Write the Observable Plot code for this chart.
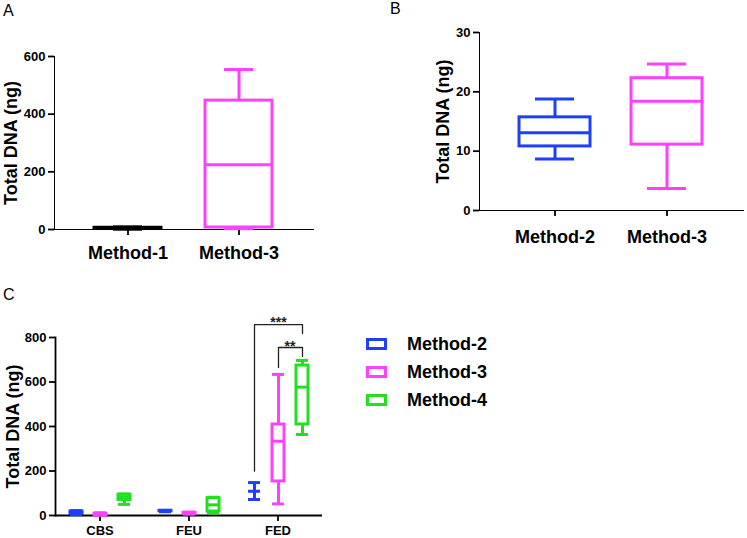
<!DOCTYPE html>
<html><head><meta charset="utf-8">
<script src="https://cdn.jsdelivr.net/npm/d3@7"></script>
<script src="https://cdn.jsdelivr.net/npm/@observablehq/plot@0.6"></script>
<style>
html,body{margin:0;padding:0;background:#fff;}
#root{position:relative;width:747px;height:538px;overflow:hidden;font-family:'Liberation Sans',Arial,sans-serif;color:#000;}
.panel{position:absolute;}
.letter{position:absolute;font-size:16px;line-height:16px;font-weight:normal;}
#legend{position:absolute;left:366px;top:330px;}
.row{display:flex;align-items:center;height:28px;}
.row span{font-size:18px;font-weight:bold;margin-left:19px;}
#root svg g[aria-label*="axis"] path,
#root svg g[aria-label*="axis"] line,
#root svg g[aria-label="frame"] line,
#root svg g[aria-label="frame"] rect,
#root svg g[aria-label="frame"] path {stroke-width:1.8px;}
</style></head><body><div id="root"></div>
<script>
// ---- Panel A ----
const methodsA = ["Method-1", "Method-3"];
const minA = [1, 3];
const q1A = [2, 7];
const medA = [4, 225];
const q3A = [6, 447];
const maxA = [9, 555];
const ticksA = [0, 200, 400, 600];

// ---- Panel B ----
const methodsB = ["Method-2", "Method-3"];
const minB = [8.7, 3.7];
const q1B = [10.8, 11.1];
const medB = [13.1, 18.4];
const q3B = [15.7, 22.3];
const maxB = [18.8, 24.7];
const ticksB = [0, 10, 20, 30];

// ---- Panel C ----
const groupsC = ["CBS", "FEU", "FED"];
const seriesC = ["Method-2", "Method-3", "Method-4"];
const minC = {"Method-2": [4, 17, 72], "Method-3": [1, 6, 52], "Method-4": [50, 12, 364]};
const q1C = {"Method-2": [7, 19, 109], "Method-3": [2, 8, 153], "Method-4": [70, 18, 409]};
const medC = {"Method-2": [12, 20, 109], "Method-3": [5, 10, 334], "Method-4": [82, 48, 577]};
const q3C = {"Method-2": [18, 21, 109], "Method-3": [8, 12, 409], "Method-4": [93, 78, 674]};
const maxC = {"Method-2": [22, 23, 148], "Method-3": [12, 15, 634], "Method-4": [97, 82, 697]};
const ticksC = [0, 200, 400, 600, 800];
// significance brackets (FED group)
const bracket1X = ["Method-2", "Method-2", "Method-4", "Method-4"];
const bracket1Y = [199, 858, 858, 818];
const bracket2X = ["Method-3", "Method-3", "Method-4", "Method-4"];
const bracket2Y = [665, 755, 755, 715];
const sigLabels = ["***", "**"];
const sigX = ["Method-3", "Method-4"];
const sigY = [866, 760];

const allMethods = ["Method-1", "Method-2", "Method-3", "Method-4"];
const colors = ["#000000", "#1f3fff", "#ff40ff", "#20e020"];
const yLabel = "Total DNA (ng)";

const font = "'Liberation Sans', Arial, sans-serif";
const style = {fontFamily: font, fontSize: "13px", fontWeight: "bold", color: "black", background: "white", overflow: "visible"};
const colorScale = {domain: allMethods, range: colors, legend: false};

function rowsOf(methods, mn, q1, md, q3, mx) {
  return methods.map((m, i) => ({method: m, min: mn[i], q1: q1[i], med: md[i], q3: q3[i], max: mx[i]}));
}

function boxMarks(rows, capInset, extra = {}) {
  const sw = 3;
  return [
    Plot.ruleX(rows, {x: "method", y1: "min", y2: "max", stroke: "method", strokeWidth: sw, ...extra}),
    Plot.barY(rows, {x: "method", y1: "q1", y2: "q3", fill: "white", stroke: "method", strokeWidth: sw, ...extra}),
    Plot.tickY(rows, {x: "method", y: "med", stroke: "method", strokeWidth: sw, ...extra}),
    Plot.tickY(rows, {x: "method", y: "min", stroke: "method", strokeWidth: sw, insetLeft: capInset, insetRight: capInset, ...extra}),
    Plot.tickY(rows, {x: "method", y: "max", stroke: "method", strokeWidth: sw, insetLeft: capInset, insetRight: capInset, ...extra})
  ];
}

const root = document.getElementById("root");
function place(node, left, top) {
  const d = document.createElement("div");
  d.className = "panel";
  d.style.left = left + "px";
  d.style.top = top + "px";
  d.appendChild(node);
  root.appendChild(d);
}
function letter(t, left, top) {
  const d = document.createElement("div");
  d.className = "letter";
  d.style.left = left + "px";
  d.style.top = top + "px";
  d.textContent = t;
  root.appendChild(d);
}

const yLabelOpts = {text: d => d, frameAnchor: "left", rotate: -90, fontSize: 18, fontWeight: "bold", textAnchor: "middle", lineAnchor: "middle"};

// Panel A
const rowsA = rowsOf(methodsA, minA, q1A, medA, q3A, maxA);
const plotA = Plot.plot({
  width: 380, height: 280,
  marginLeft: 54, marginRight: 67, marginTop: 56, marginBottom: 51,
  style,
  x: {domain: methodsA, paddingInner: 0.393, paddingOuter: 0.353, line: true, tickSize: 6, tickFormat: () => "", label: null},
  y: {domain: [0, 600], ticks: ticksA, line: true, tickSize: 6, tickPadding: 3, label: null},
  color: colorScale,
  marks: [
    ...boxMarks(rowsA, 19),
    Plot.text(methodsA, {x: d => d, text: d => d, frameAnchor: "bottom", dy: 24, fontSize: 18, fontWeight: "bold", lineAnchor: "middle"}),
    Plot.text([yLabel], {...yLabelOpts, dx: -43})
  ]
});
place(plotA, 0, 0);

// Panel B
const rowsB = rowsOf(methodsB, minB, q1B, medB, q3B, maxB);
const plotB = Plot.plot({
  width: 367, height: 280,
  marginLeft: 99, marginRight: 4, marginTop: 32, marginBottom: 70,
  style,
  x: {domain: methodsB, paddingInner: 0.363, paddingOuter: 0.35, line: true, tickSize: 6, tickFormat: () => "", label: null},
  y: {domain: [0, 30], ticks: ticksB, line: true, tickSize: 6, tickPadding: 3, label: null},
  color: colorScale,
  marks: [
    ...boxMarks(rowsB, 16),
    Plot.text(methodsB, {x: d => d, text: d => d, frameAnchor: "bottom", dy: 27, fontSize: 18, fontWeight: "bold", lineAnchor: "middle"}),
    Plot.text([yLabel], {...yLabelOpts, dx: -36})
  ]
});
place(plotB, 380, 0);

// Panel C
const rowsC = [];
seriesC.forEach(s => groupsC.forEach((g, j) => rowsC.push({
  method: s, group: g, min: minC[s][j], q1: q1C[s][j], med: medC[s][j], q3: q3C[s][j], max: maxC[s][j]
})));
const br1 = bracket1X.map((x, i) => ({group: "FED", method: x, y: bracket1Y[i]}));
const br2 = bracket2X.map((x, i) => ({group: "FED", method: x, y: bracket2Y[i]}));
const sig = sigLabels.map((t, i) => ({group: "FED", method: sigX[i], y: sigY[i], label: t}));
const plotC = Plot.plot({
  width: 380, height: 258,
  marginLeft: 54, marginRight: 58, marginTop: 57, marginBottom: 23,
  style,
  fx: {domain: groupsC, padding: 0, tickSize: 6, tickPadding: 4, label: null},
  x: {domain: seriesC, paddingInner: 0.52, paddingOuter: 0.547, axis: null},
  y: {domain: [0, 800], ticks: ticksC, line: true, tickSize: 6, tickPadding: 3, label: null},
  color: colorScale,
  marks: [
    Plot.ruleY([0], {strokeWidth: 1.8}),
    ...boxMarks(rowsC, 0, {fx: "group"}),
    Plot.line(br1, {fx: "group", x: "method", y: "y", stroke: "#222", strokeWidth: 1.3}),
    Plot.line(br2, {fx: "group", x: "method", y: "y", stroke: "#222", strokeWidth: 1.3}),
    Plot.text(sig.slice(0, 1), {fx: "group", x: "method", y: "y", text: "label", fontSize: 14, fontWeight: "bold", fill: "#222", lineAnchor: "middle"}),
    Plot.text(sig.slice(1), {fx: "group", x: "method", y: "y", text: "label", dx: -12.5, fontSize: 14, fontWeight: "bold", fill: "#222", lineAnchor: "middle"}),
    Plot.text([yLabel], {...yLabelOpts, fx: () => "CBS", dx: -42})
  ]
});
place(plotC, 0, 280);

// Legend (panel C)
const legend = document.createElement("div");
legend.id = "legend";
seriesC.forEach(s => {
  const row = document.createElement("div");
  row.className = "row";
  const c = colors[allMethods.indexOf(s)];
  row.innerHTML = `<svg width="22" height="13"><rect x="1.5" y="1.5" width="18" height="9" fill="white" stroke="${c}" stroke-width="3"/></svg><span>${s}</span>`;
  legend.appendChild(row);
});
root.appendChild(legend);

letter("A", 3, 3);
letter("B", 390, 1);
letter("C", 3, 287);
</script></body></html>
